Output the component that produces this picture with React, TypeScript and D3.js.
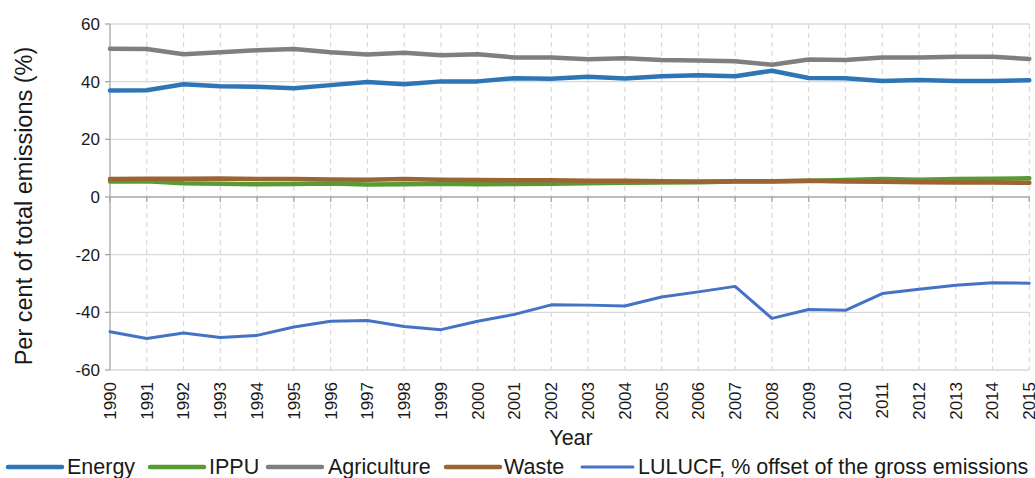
import React from "react";
import * as d3 from "d3";

const years = d3.range(1990, 2016);
const energy = [36.9, 37.0, 39.1, 38.4, 38.2, 37.7, 38.8, 39.9, 39.1, 40.1, 40.1, 41.2, 41.0, 41.7, 41.1, 41.9, 42.2, 41.9, 43.8, 41.3, 41.2, 40.2, 40.6, 40.2, 40.2, 40.5];
const ippu = [5.4, 5.5, 4.8, 4.6, 4.4, 4.5, 4.7, 4.3, 4.4, 4.6, 4.4, 4.5, 4.6, 4.8, 4.9, 5.0, 5.1, 5.4, 5.4, 5.6, 5.9, 6.2, 6.0, 6.2, 6.3, 6.5];
const agriculture = [51.4, 51.3, 49.5, 50.2, 50.9, 51.3, 50.2, 49.4, 50.0, 49.2, 49.5, 48.4, 48.4, 47.8, 48.1, 47.5, 47.3, 47.1, 45.9, 47.7, 47.5, 48.4, 48.4, 48.6, 48.6, 47.9];
const waste = [6.2, 6.3, 6.3, 6.4, 6.2, 6.2, 6.1, 6.0, 6.2, 6.0, 5.9, 5.8, 5.8, 5.6, 5.6, 5.5, 5.4, 5.5, 5.5, 5.6, 5.4, 5.3, 5.1, 5.0, 5.0, 4.9];
const lulucf = [-46.7, -49.1, -47.2, -48.7, -48.0, -45.1, -43.1, -42.8, -44.9, -46.0, -43.1, -40.7, -37.4, -37.5, -37.8, -34.7, -32.9, -31.0, -42.1, -39.0, -39.3, -33.5, -32.0, -30.6, -29.7, -29.9];
const yTicks = [-60, -40, -20, 0, 20, 40, 60];

const series = [
  { name: "Energy", values: energy, color: "#2E75B6", width: 4.5 },
  { name: "IPPU", values: ippu, color: "#5A9A34", width: 4.5 },
  { name: "Agriculture", values: agriculture, color: "#7F7F7F", width: 4.5 },
  { name: "Waste", values: waste, color: "#9B6533", width: 4.5 },
  { name: "LULUCF, % offset of the gross emissions", values: lulucf, color: "#4472C4", width: 3 },
];
const legendPos = [
  { x1: 8, x2: 62, tx: 67 },
  { x1: 150, x2: 204, tx: 209 },
  { x1: 268, x2: 322, tx: 328 },
  { x1: 446, x2: 500, tx: 504 },
  { x1: 582, x2: 633, tx: 638 },
];

export default function App() {
  const x = d3.scaleLinear().domain([1990, 2015]).range([110, 1029.3]);
  const y = d3.scaleLinear().domain([-60, 60]).range([370, 24]);
  const line = d3.line<number>().x((_, i) => x(years[i])).y((d) => y(d));
  const font = "'Liberation Sans', Arial, sans-serif";
  return (
    <svg width={1035} height={478} style={{ position: "absolute", left: 0, top: 0 }} fontFamily={font}>
      <rect width={1035} height={478} fill="#fff" />
      {yTicks.filter((t) => t !== 0).map((t) => (
        <line key={t} x1={110} x2={1029.3} y1={y(t)} y2={y(t)} stroke="#D9D9D9" strokeWidth={1.3} />
      ))}
      {years.slice(1).map((yr) => (
        <line key={yr} x1={x(yr)} x2={x(yr)} y1={24} y2={370} stroke="#D9D9D9" strokeWidth={1.2} strokeDasharray="5,4" />
      ))}
      <line x1={110} x2={110} y1={24} y2={370} stroke="#A6A6A6" strokeWidth={1.3} />
      <line x1={110} x2={1029.3} y1={y(0)} y2={y(0)} stroke="#A6A6A6" strokeWidth={1.3} />
      {yTicks.map((t) => (
        <g key={t}>
          <line x1={105} x2={110} y1={y(t)} y2={y(t)} stroke="#A6A6A6" strokeWidth={1.3} />
          <text x={100} y={y(t)} dy="0.35em" textAnchor="end" fontSize={17} fill="#1a1a1a">{t}</text>
        </g>
      ))}
      {years.map((yr) => (
        <g key={yr}>
          <line x1={x(yr)} x2={x(yr)} y1={y(0)} y2={y(0) + 5} stroke="#A6A6A6" strokeWidth={1.3} />
          <text transform={`translate(${x(yr)},382) rotate(-90)`} dy="0.35em" textAnchor="end" fontSize={17} fill="#1a1a1a">{yr}</text>
        </g>
      ))}
      {series.map((s) => (
        <path key={s.name} d={line(s.values) || ""} fill="none" stroke={s.color} strokeWidth={s.width} strokeLinejoin="round" strokeLinecap="round" />
      ))}
      <text transform="translate(32,206) rotate(-90)" textAnchor="middle" fontSize={23.5} fill="#1a1a1a">Per cent of total emissions (%)</text>
      <text x={571} y={445} textAnchor="middle" fontSize={21.5} fill="#1a1a1a">Year</text>
      {series.map((s, i) => (
        <g key={s.name}>
          <line x1={legendPos[i].x1} x2={legendPos[i].x2} y1={467} y2={467} stroke={s.color} strokeWidth={s.width} strokeLinecap="round" />
          <text x={legendPos[i].tx} y={474} fontSize={21.5} fill="#1a1a1a">{s.name}</text>
        </g>
      ))}
    </svg>
  );
}
